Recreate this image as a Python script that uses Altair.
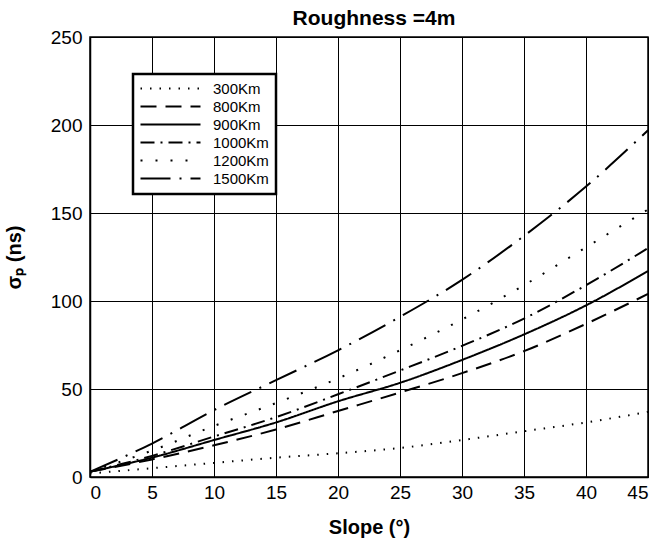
import altair as alt
import pandas as pd

slope = [0, 5, 10, 15, 20, 25, 30, 35, 40, 45]
s300 = [2, 5, 8, 11, 13.5, 16.5, 21, 26, 31, 37]
s800 = [3, 10, 18, 27, 37.5, 48, 59, 71.5, 87, 104]
s900 = [3, 11, 21, 31, 43, 53.5, 66.5, 81, 97.5, 117]
s1000 = [3, 12, 23, 34, 47, 60.5, 74.5, 90, 109, 130]
s1200 = [3, 15, 29, 42, 56, 72, 89.5, 109, 130.5, 152]
s1500 = [3, 19, 38, 55, 72, 91, 112, 137, 165, 197]
labels = ["300Km", "800Km", "900Km", "1000Km", "1200Km", "1500Km"]
dashes = [[1.5, 8], [16, 9], [1, 0], [14, 6, 2, 6], [2, 13], [30, 9, 2, 9]]
x_ticks = [0, 5, 10, 15, 20, 25, 30, 35, 40, 45]
y_ticks = [0, 50, 100, 150, 200, 250]

rows = []
for lab, vals in zip(labels, [s300, s800, s900, s1000, s1200, s1500]):
    for xv, yv in zip(slope, vals):
        rows.append({"slope": xv, "sigma": yv, "orbit": lab})
df = pd.DataFrame(rows)

FONT = "Liberation Sans"

chart = alt.Chart(df, title=alt.Title("Roughness =4m", font=FONT, fontSize=21,
                                      fontWeight="bold", color="black",
                                      offset=-1, dx=5)).mark_line(
    color="black", strokeWidth=2, interpolate="monotone", clip=True
).encode(
    x=alt.X("slope:Q", scale=alt.Scale(domain=[0, 45], nice=False),
            axis=alt.Axis(values=x_ticks, title="Slope (°)", format="d")),
    y=alt.Y("sigma:Q", scale=alt.Scale(domain=[0, 250], nice=False),
            axis=alt.Axis(values=y_ticks, title="σₚ (ns)", format="d")),
    strokeDash=alt.StrokeDash(
        "orbit:N", sort=labels,
        scale=alt.Scale(domain=labels, range=dashes),
        legend=alt.Legend(
            title=None, orient="none", legendX=43, legendY=37,
            symbolType="M-5,0H5", symbolSize=144, symbolStrokeWidth=2,
            symbolStrokeColor="black", symbolOffset=23, labelOffset=35,
            labelFont=FONT, labelFontSize=15,
            labelColor="black", fillColor="white", padding=7, rowPadding=2,
        ),
    ),
).properties(
    width=558, height=440,
    padding={"left": 90, "top": 37, "right": 15, "bottom": 61},
    autosize="none",
).configure_view(
    stroke="black", strokeWidth=1.5
).configure_legend(
    strokeColor="black", strokeWidth=2.5
).configure_axis(
    grid=True, gridColor="black", gridOpacity=1, gridWidth=1,
    domainColor="black", domainWidth=1.5, ticks=False,
    labelFont=FONT, labelFontSize=19, labelColor="black",
    titleFont=FONT, titleFontSize=20, titleFontWeight="bold", titleColor="black",
).configure_axisX(
    labelPadding=6, titlePadding=15
).configure_axisY(
    labelPadding=8, titlePadding=26
)

chart.save("out.html", embed_options={"renderer": "svg", "actions": False})
